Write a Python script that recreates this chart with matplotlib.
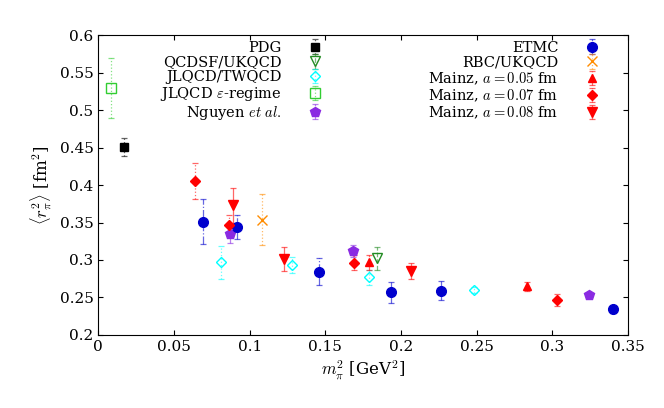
import matplotlib
matplotlib.use("Agg")
import matplotlib.pyplot as plt
from matplotlib.ticker import MultipleLocator

plt.rcParams['font.family'] = 'serif'
plt.rcParams['font.serif'] = ['DejaVu Serif']
plt.rcParams['mathtext.fontset'] = 'cm'

# (x, y, yerr) per collaboration
pdg = ([0.0172], [0.451], [0.012])
qcdsf = ([0.184], [0.302], [0.016])
jlqcd_tw = ([0.081, 0.128, 0.179, 0.248], [0.297, 0.293, 0.277, 0.260], [0.022, 0.011, 0.010, 0.004])
jlqcd_eps = ([0.0086], [0.529], [0.04])
nguyen = ([0.0872, 0.168, 0.324], [0.335, 0.312, 0.253], [0.012, 0.008, 0.003])
etmc = ([0.069, 0.0918, 0.146, 0.1935, 0.2265, 0.340],
        [0.351, 0.344, 0.284, 0.257, 0.259, 0.234],
        [0.030, 0.016, 0.018, 0.014, 0.013, 0.005])
rbc = ([0.108], [0.354], [0.034])
mainz05 = ([0.179, 0.283], [0.297, 0.265], [0.010, 0.006])
mainz07 = ([0.064, 0.0865, 0.169, 0.303], [0.405, 0.347, 0.296, 0.247], [0.024, 0.013, 0.010, 0.008])
mainz08 = ([0.089, 0.1228, 0.2067], [0.373, 0.301, 0.285], [0.023, 0.016, 0.011])

fig = plt.figure(figsize=(6.64, 4.08), dpi=100)
ax = fig.add_axes([0.148, 0.179, 0.798, 0.735])

def draw(d, label, color, marker, ls, ms=6, mfc=None):
    x, y, e = d
    h = ax.errorbar(x, y, yerr=e, fmt=marker, color=color, ms=ms, capsize=2.5,
                    elinewidth=0.9, capthick=0.9, mfc=mfc if mfc else color,
                    ecolor=color, label=label, zorder=3)
    h[-1][0].set_linestyle(ls)
    h[-1][0].set_alpha(0.6)
    for c in h[1]:
        c.set_alpha(0.6)
    return h

h1 = draw(pdg, 'PDG', 'black', 's', ':', mfc='black')
h2 = draw(qcdsf, 'QCDSF/UKQCD', 'forestgreen', 'v', '--', mfc='none', ms=7)
h3 = draw(jlqcd_tw, 'JLQCD/TWQCD', 'cyan', 'D', ':', mfc='none', ms=5)
h4 = draw(jlqcd_eps, r'JLQCD $\varepsilon$-regime', 'limegreen', 's', ':', mfc='none', ms=7)
h5 = draw(nguyen, r'Nguyen $et\ al.$', 'blueviolet', 'p', '-.', ms=7)
h6 = draw(etmc, 'ETMC', 'mediumblue', 'o', '-.', ms=7)
h7 = draw(rbc, 'RBC/UKQCD', 'darkorange', 'x', ':', ms=7)
h8 = draw(mainz05, r'Mainz, $a=0.05$ fm', 'red', '^', '-.', ms=6)
h9 = draw(mainz07, r'Mainz, $a=0.07$ fm', 'red', 'D', ':', ms=5)
h10 = draw(mainz08, r'Mainz, $a=0.08$ fm', 'red', 'v', '-', ms=7)

ax.set_xlim(0, 0.35)
ax.set_ylim(0.2, 0.6)
ax.xaxis.set_major_locator(MultipleLocator(0.05))
ax.yaxis.set_major_locator(MultipleLocator(0.05))
ax.tick_params(direction='in', top=True, right=True, labelsize=11)
ax.set_xticklabels([f'{v:g}' for v in ax.get_xticks()])
ax.set_yticklabels([f'{v:g}' for v in ax.get_yticks()])
ax.set_xlabel(r'$m_\pi^2$ [GeV$^2$]', fontsize=12)
ax.set_ylabel(r'$\langle r_\pi^2\rangle$ [fm$^2$]', fontsize=12)

left = [h1, h2, h3, h4, h5]
right = [h6, h7, h8, h9, h10]
leg1 = ax.legend(left, [h.get_label() for h in left],
                 loc='upper left', bbox_to_anchor=(0.10, 1.01), markerfirst=False,
                 frameon=False, fontsize=10.5, handlelength=3.0, labelspacing=0.05,
                 borderaxespad=0.2)
leg1._legend_box.align = 'right'
ax.add_artist(leg1)
leg2 = ax.legend(right, [h.get_label() for h in right],
                 loc='upper right', bbox_to_anchor=(0.99, 1.01), markerfirst=False,
                 frameon=False, fontsize=10.5, handlelength=3.0, labelspacing=0.05,
                 borderaxespad=0.2)
leg2._legend_box.align = 'right'

fig.savefig('out.png', dpi=100)
